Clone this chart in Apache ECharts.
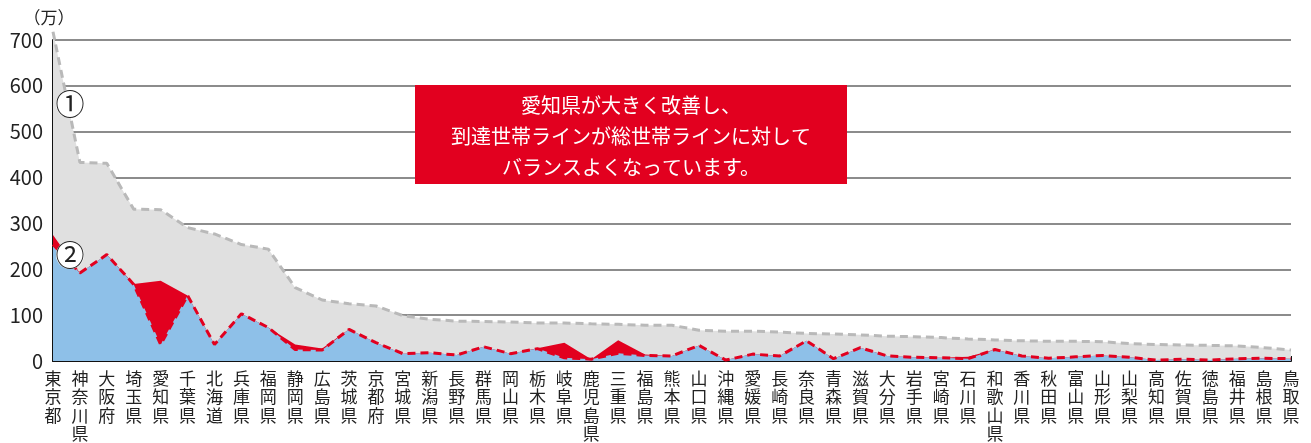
<!DOCTYPE html>
<html><head><meta charset="utf-8">
<script src="https://cdn.jsdelivr.net/npm/echarts@6/dist/echarts.min.js"></script>
<style>html,body{margin:0;padding:0;background:#fff}#c{width:1311px;height:443px}</style>
</head><body><div id="c"></div>
<script>
const prefs = ['東京都','神奈川県','大阪府','埼玉県','愛知県','千葉県','北海道','兵庫県','福岡県','静岡県','広島県','茨城県','京都府','宮城県','新潟県','長野県','群馬県','岡山県','栃木県','岐阜県','鹿児島県','三重県','福島県','熊本県','山口県','沖縄県','愛媛県','長崎県','奈良県','青森県','滋賀県','大分県','岩手県','宮崎県','石川県','和歌山県','香川県','秋田県','富山県','山形県','山梨県','高知県','佐賀県','徳島県','福井県','島根県','鳥取県'];
const totalHouseholds = [718,433,431,331,330,291,277,254,244,160,133,125,120,99,91,87,86,85,83,83,81,80,78,78,67,65,65,63,60,59,57,54,53,51,48,46,44,43,43,42,38,36,35,34,33,29,24];
const reachedHouseholds = [254,192,232,167,36,143,36,103,73,25,24,69,40,16,18,13,31,16,27,7,4,17,12,11,34,2,15,11,44,5,29,11,8,7,5,25,11,6,9,12,8,2,4,2,5,6,5];
const redHouseholds = [275,192,232,168,175,143,36,103,73,36,27,69,40,16,18,13,31,16,28,40,4,45,14,11,34,2,15,11,44,5,29,11,8,7,9,25,11,6,9,12,8,2,4,2,5,6,5];
const yTicks = [0,100,200,300,400,500,600,700];

const RED = '#e2001f', BLUE = '#8ec0e8', GRAYF = '#e0e0e0', GRAYL = '#b9b9b9';
const FONT = '"Noto Sans CJK JP", sans-serif';
const chart = echarts.init(document.getElementById('c'), null, {renderer:'canvas'});
chart.setOption({
  animation:false,
  grid:{left:53,right:20,top:40,bottom:81},
  xAxis:{type:'category',data:prefs,boundaryGap:false,
    axisLine:{lineStyle:{color:'#111',width:2}},
    axisTick:{inside:true,length:5,interval:0,lineStyle:{color:'#111',width:2}},
    axisLabel:{interval:0,margin:8,fontSize:17,lineHeight:18.5,color:'#222',fontFamily:FONT,
      formatter:v=>v.split('').join('\n')}},
  yAxis:{type:'value',min:yTicks[0],max:yTicks[yTicks.length-1],interval:100,
    name:'（万）',nameLocation:'end',nameGap:14,
    nameTextStyle:{fontSize:17,color:'#222',fontFamily:FONT,align:'center',padding:[0,0,0,-8]},
    axisLine:{show:true,lineStyle:{color:'#111',width:2}},
    axisTick:{show:false},
    axisLabel:{fontSize:20,color:'#222',margin:10,fontFamily:FONT},
    splitLine:{lineStyle:{color:'#666',width:1.5}}},
  series:[
    {type:'line',data:totalHouseholds,symbol:'none',clip:false,z:2,
     lineStyle:{color:GRAYL,width:3,type:[8,5]},areaStyle:{color:GRAYF,opacity:1}},
    {type:'line',data:redHouseholds,symbol:'none',z:3,
     lineStyle:{width:0},areaStyle:{color:RED,opacity:1}},
    {type:'line',data:reachedHouseholds,symbol:'none',z:4,
     lineStyle:{color:RED,width:3,type:[8,5]},areaStyle:{color:BLUE,opacity:1}}
  ],
  graphic:[
    {type:'circle',shape:{cx:70,cy:104,r:14},style:{fill:'#fff'},z:10},
    {type:'text',x:70,y:104,style:{text:'①',fontSize:29,fill:'#222',align:'center',verticalAlign:'middle',fontFamily:FONT},z:11},
    {type:'circle',shape:{cx:70,cy:255,r:14},style:{fill:'#fff'},z:10},
    {type:'text',x:70,y:255,style:{text:'②',fontSize:29,fill:'#222',align:'center',verticalAlign:'middle',fontFamily:FONT},z:11},
    {type:'rect',shape:{x:415,y:85,width:432,height:99},style:{fill:RED},z:10},
    {type:'text',x:631,y:136,style:{text:'愛知県が大きく改善し、\n到達世帯ラインが総世帯ラインに対して\nバランスよくなっています。',
      fontSize:20,lineHeight:31,fill:'#fff',align:'center',verticalAlign:'middle',fontFamily:FONT},z:11}
  ]
});
</script></body></html>
